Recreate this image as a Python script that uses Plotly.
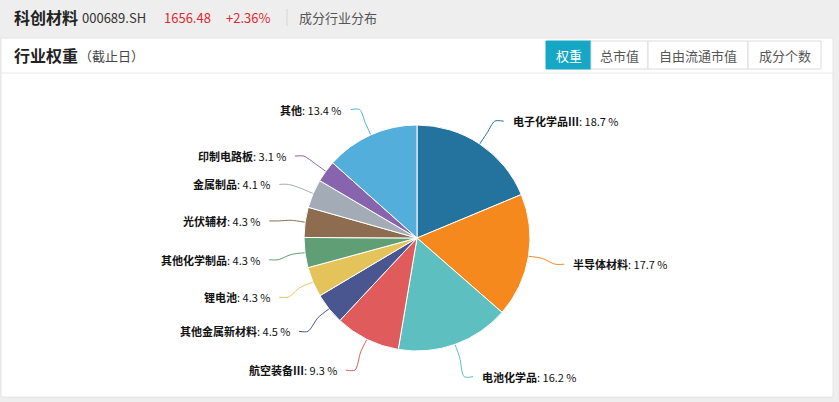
import math
import plotly.graph_objects as go

# ---- data ----
categories = ["电子化学品Ⅲ", "半导体材料", "电池化学品", "航空装备Ⅲ", "其他金属新材料",
              "锂电池", "其他化学制品", "光伏辅材", "金属制品", "印制电路板", "其他"]
weights = [18.7, 17.7, 16.2, 9.3, 4.5, 4.3, 4.3, 4.3, 4.1, 3.1, 13.4]
colors = ["#23739e", "#f5891e", "#5dbfbf", "#e05c5c", "#4a5690", "#e4c45a",
          "#609f75", "#8d6c50", "#a3acb6", "#8764ad", "#53aedb"]
tabs = ["权重", "总市值", "自由流通市值", "成分个数"]
index_name = "科创材料"
index_code = "000689.SH"
index_price = "1656.48"
index_change = "+2.36%"

W, H = 839, 402
FONT = "Noto Sans CJK SC"
CX, CY, R = 417, 238, 113

fig = go.Figure()

# pie placed in pixel geometry
fig.add_trace(go.Pie(
    labels=categories, values=weights, sort=False, direction="clockwise", rotation=0,
    marker=dict(colors=colors, line=dict(color="white", width=1)),
    textinfo="none", hoverinfo="label+percent", showlegend=False,
    domain=dict(x=[(CX - R) / W, (CX + R) / W], y=[1 - (CY + R) / H, 1 - (CY - R) / H]),
))

# leader lines + labels computed from the values
total = sum(weights)
cum = 0.0
annotations = []
for name, v, c in zip(categories, weights, colors):
    mid = (cum + v / 2) / total * 2 * math.pi
    cum += v
    s, co = math.sin(mid), math.cos(mid)
    ax_, ay_ = CX + R * s, CY - R * co
    bx, by = CX + (R + 14) * s, CY - (R + 14) * co
    ly = CY - 144 * co + 3
    ex = CX + 140 * s
    side = 1 if s >= 0 else -1
    endx = ex + side * 9
    fig.add_trace(go.Scatter(
        x=[ax_, bx, ex, endx], y=[ay_, by, ly, ly], mode="lines",
        line=dict(color=c, width=1, shape="spline", smoothing=0.8),
        hoverinfo="skip", showlegend=False, xaxis="x", yaxis="y"))
    annotations.append(dict(
        x=endx + side * 7, y=ly, xref="x", yref="y", showarrow=False,
        text=f"<b>{name}</b>: {v:.1f} %", xanchor="left" if side > 0 else "right", yanchor="middle",
        font=dict(family=FONT, size=11, color="#111")))

shapes = [
    # page background
    dict(type="rect", xref="x", yref="y", x0=0, x1=W, y0=0, y1=H, fillcolor="#eeeeee",
         line=dict(width=0), layer="below"),
    # card
    dict(type="rect", xref="x", yref="y", x0=1, x1=833, y0=38, y1=397, fillcolor="white",
         line=dict(color="#e4e4e4", width=1), layer="below"),
    # divider under card title
    dict(type="line", xref="x", yref="y", x0=1, x1=833, y0=73, y1=73,
         line=dict(color="#e8e8e8", width=1), layer="below"),
    # header separator
    dict(type="line", xref="x", yref="y", x0=287, x1=287, y0=9, y1=26,
         line=dict(color="#d6d6d6", width=1), layer="below"),
]

# header texts
hdr = [
    (12, index_name, 16, "#222", True),
    (80, index_code, 13, "#333", False),
    (162, index_price, 13, "#e0282e", False),
    (224, index_change, 13, "#e0282e", False),
    (297, "成分行业分布", 13, "#555", False),
]
for x, t, sz, col, bold in hdr:
    annotations.append(dict(x=x, y=17, xref="x", yref="y", showarrow=False,
                            text=f"<b>{t}</b>" if bold else t, xanchor="left", yanchor="middle",
                            font=dict(family=FONT, size=sz, color=col)))
annotations.append(dict(x=12, y=55, xref="x", yref="y", showarrow=False, text="<b>行业权重</b>",
                        xanchor="left", yanchor="middle", font=dict(family=FONT, size=16, color="#222")))
annotations.append(dict(x=77, y=55, xref="x", yref="y", showarrow=False, text="（截止日）",
                        xanchor="left", yanchor="middle", font=dict(family=FONT, size=13, color="#444")))

# tab buttons
edges = [546, 591, 648, 748, 821]
for i, t in enumerate(tabs):
    active = i == 0
    shapes.append(dict(type="rect", xref="x", yref="y", x0=edges[i], x1=edges[i + 1], y0=41, y1=69,
                       fillcolor="#15a7c3" if active else "white",
                       line=dict(color="#15a7c3" if active else "#dcdcdc", width=1), layer="below"))
    annotations.append(dict(x=(edges[i] + edges[i + 1]) / 2, y=55, xref="x", yref="y", showarrow=False,
                            text=t, xanchor="center", yanchor="middle",
                            font=dict(family=FONT, size=13, color="white" if active else "#555")))

fig.update_layout(
    width=W, height=H, margin=dict(l=0, r=0, t=0, b=0),
    paper_bgcolor="#eeeeee", plot_bgcolor="rgba(0,0,0,0)",
    xaxis=dict(range=[0, W], visible=False, fixedrange=True, domain=[0, 1]),
    yaxis=dict(range=[H, 0], visible=False, fixedrange=True, domain=[0, 1]),
    shapes=shapes, annotations=annotations, font=dict(family=FONT),
)

fig.write_html("out.html", config={"displayModeBar": False},
               post_script="document.body.style.margin='0';document.body.style.padding='0';")
